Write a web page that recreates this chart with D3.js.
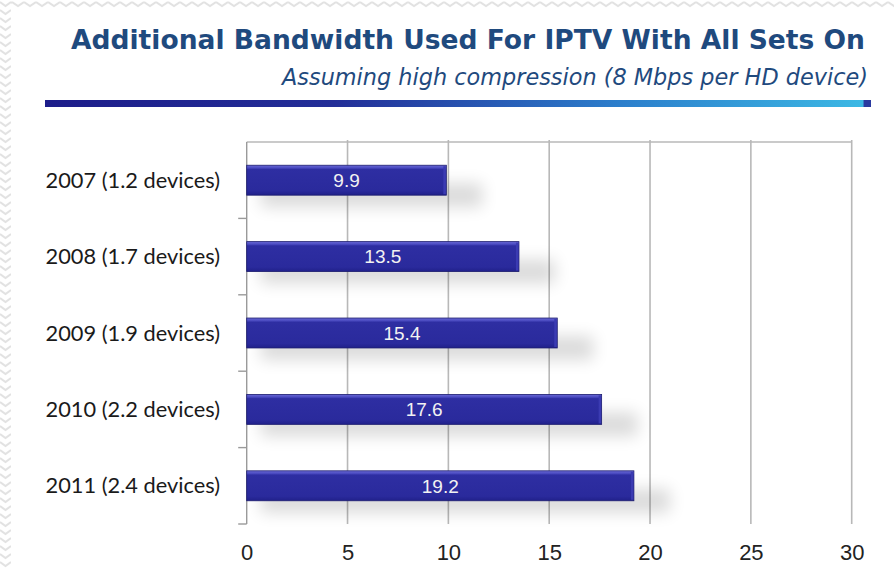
<!DOCTYPE html>
<html>
<head>
<meta charset="utf-8">
<script src="https://cdn.jsdelivr.net/npm/d3@7/dist/d3.min.js"></script>
<style>
  html, body { margin: 0; padding: 0; background: #fff; }
  svg { display: block; }
</style>
</head>
<body>
<svg id="chart" width="894" height="569"></svg>
<script>
// ---- data ----
const categories = [
  "2007 (1.2 devices)",
  "2008 (1.7 devices)",
  "2009 (1.9 devices)",
  "2010 (2.2 devices)",
  "2011 (2.4 devices)"
];
const values = [9.9, 13.5, 15.4, 17.6, 19.2];
const xTicks = [0, 5, 10, 15, 20, 25, 30];
const titleText = "Additional Bandwidth Used For IPTV With All Sets On";
const subtitleText = "Assuming high compression (8 Mbps per HD device)";

// ---- drawing ----
const W = 894, H = 569;
const svg = d3.select("#chart");
const defs = svg.append("defs");

// chevron background patterns
const pTop = defs.append("pattern").attr("id", "chevTop")
  .attr("patternUnits", "userSpaceOnUse").attr("width", 12).attr("height", 9);
pTop.append("rect").attr("width", 12).attr("height", 9).attr("fill", "#fff");
pTop.append("polyline").attr("points", "0,2 6,6 12,2")
  .attr("fill", "none").attr("stroke", "#e2e2e2").attr("stroke-width", 2);
const pLeft = defs.append("pattern").attr("id", "chevLeft")
  .attr("patternUnits", "userSpaceOnUse").attr("width", 11).attr("height", 8);
pLeft.append("rect").attr("width", 11).attr("height", 8).attr("fill", "#fff");
pLeft.append("polyline").attr("points", "0,2 5.5,6 11,2")
  .attr("fill", "none").attr("stroke", "#e2e2e2").attr("stroke-width", 2);

svg.append("rect").attr("x", 0).attr("y", 0).attr("width", W).attr("height", 9).attr("fill", "url(#chevTop)");
svg.append("rect").attr("x", 0).attr("y", 0).attr("width", 11).attr("height", H).attr("fill", "url(#chevLeft)");

// title
svg.append("text")
  .attr("x", 865).attr("y", 49)
  .attr("text-anchor", "end")
  .attr("font-family", "DejaVu Sans")
  .attr("font-weight", "bold")
  .attr("font-size", 27)
  .attr("fill", "#1f4a7e")
  .attr("textLength", 794)
  .attr("lengthAdjust", "spacingAndGlyphs")
  .text(titleText);

svg.append("text")
  .attr("x", 868).attr("y", 85)
  .attr("text-anchor", "end")
  .attr("font-family", "DejaVu Sans")
  .attr("font-style", "italic")
  .attr("font-size", 22.5)
  .attr("fill", "#1f4a7e")
  .attr("textLength", 586)
  .attr("lengthAdjust", "spacingAndGlyphs")
  .text(subtitleText);

// gradient rule
const g1 = defs.append("linearGradient").attr("id", "rule").attr("x1", "0%").attr("x2", "100%");
g1.append("stop").attr("offset", "0%").attr("stop-color", "#1d1d8a");
g1.append("stop").attr("offset", "35%").attr("stop-color", "#232e98");
g1.append("stop").attr("offset", "70%").attr("stop-color", "#2c7fcc");
g1.append("stop").attr("offset", "99%").attr("stop-color", "#3cb8e4");
g1.append("stop").attr("offset", "99.2%").attr("stop-color", "#2a3aa0");
g1.append("stop").attr("offset", "100%").attr("stop-color", "#2a3aa0");
svg.append("rect").attr("x", 45).attr("y", 100).attr("width", 826).attr("height", 7).attr("fill", "url(#rule)");

// scales
const x = d3.scaleLinear().domain([0, 30]).range([246.7, 851.7]);
const y = d3.scaleBand().domain(categories).range([142, 524])
  .paddingInner(0.608).paddingOuter(0.304);
const yIdx = d3.scaleLinear().domain([0, categories.length]).range([142, 524]);

// gridlines
svg.append("g").selectAll("line").data(xTicks.filter(d => d > 0)).join("line")
  .attr("x1", d => x(d)).attr("x2", d => x(d))
  .attr("y1", 140).attr("y2", 524)
  .attr("stroke", "#b8b8b8").attr("stroke-width", 1.6);
// top line
svg.append("line").attr("x1", x(0)).attr("x2", x(30)).attr("y1", 142).attr("y2", 142)
  .attr("stroke", "#b8b8b8").attr("stroke-width", 1.6);
// y axis line and ticks
svg.append("line").attr("x1", x(0)).attr("x2", x(0)).attr("y1", 142).attr("y2", 524)
  .attr("stroke", "#9a9a9a").attr("stroke-width", 1.4);
svg.append("g").selectAll("line").data(d3.range(1, categories.length + 1)).join("line")
  .attr("x1", x(0) - 8.5).attr("x2", x(0))
  .attr("y1", d => yIdx(d)).attr("y2", d => yIdx(d))
  .attr("stroke", "#9a9a9a").attr("stroke-width", 1.4);

// x axis labels
const xAxis = svg.append("g").attr("transform", "translate(0,543)")
  .call(d3.axisBottom(x).tickValues(xTicks).tickSize(0).tickPadding(0).tickFormat(d3.format("d")));
xAxis.select(".domain").remove();
xAxis.selectAll("text")
  .attr("font-family", "Liberation Sans, Arial, sans-serif")
  .attr("font-size", 22)
  .attr("fill", "#222")
  .attr("dy", "0.77em");

// category labels
svg.append("g").selectAll("text").data(categories).join("text")
  .attr("x", 220)
  .attr("y", d => y(d) + y.bandwidth() / 2)
  .attr("dy", "0.35em")
  .attr("text-anchor", "end")
  .attr("font-family", "Lato, 'Open Sans', sans-serif")
  .attr("font-size", 21.8)
  .attr("fill", "#1a1a1a")
  .text(d => d);

// shadow filter
const f = defs.append("filter").attr("id", "shadow")
  .attr("x", "-20%").attr("y", "-100%").attr("width", "150%").attr("height", "400%");
f.append("feGaussianBlur").attr("in", "SourceGraphic").attr("stdDeviation", 8);

// bar gradient
const bg = defs.append("linearGradient").attr("id", "barGrad")
  .attr("x1", "0").attr("y1", "0").attr("x2", "0").attr("y2", "1");
bg.append("stop").attr("offset", "0%").attr("stop-color", "#6a6ad6");
bg.append("stop").attr("offset", "9%").attr("stop-color", "#4a4ac0");
bg.append("stop").attr("offset", "14%").attr("stop-color", "#2e2ea2");
bg.append("stop").attr("offset", "85%").attr("stop-color", "#2a2a9c");
bg.append("stop").attr("offset", "100%").attr("stop-color", "#20208a");

const bars = svg.append("g").selectAll("g").data(categories).join("g");
// shadows
bars.append("rect")
  .attr("x", d => x(0) + 14)
  .attr("y", d => y(d) + y.bandwidth() * 0.6)
  .attr("width", (d, i) => x(values[i]) - x(0) + 22)
  .attr("height", y.bandwidth() * 0.8)
  .attr("fill", "#000").attr("opacity", 0.14)
  .attr("filter", "url(#shadow)");
// bars
bars.append("rect")
  .attr("x", x(0))
  .attr("y", d => y(d))
  .attr("width", (d, i) => x(values[i]) - x(0))
  .attr("height", y.bandwidth())
  .attr("fill", "url(#barGrad)")
  .attr("stroke", "#1c1c6e").attr("stroke-width", 0.8);
// right bevel
bars.append("rect")
  .attr("x", (d, i) => x(values[i]) - 3)
  .attr("y", d => y(d) + 1)
  .attr("width", 2.5)
  .attr("height", y.bandwidth() - 2)
  .attr("fill", "#3b3bb2");
// value labels
bars.append("text")
  .attr("x", (d, i) => (x(0) + x(values[i])) / 2)
  .attr("y", d => y(d) + y.bandwidth() / 2)
  .attr("dy", "0.36em")
  .attr("text-anchor", "middle")
  .attr("font-family", "Liberation Sans, Arial, sans-serif")
  .attr("font-size", 19)
  .attr("fill", "#f2f2f2")
  .text((d, i) => values[i]);
</script>
</body>
</html>
